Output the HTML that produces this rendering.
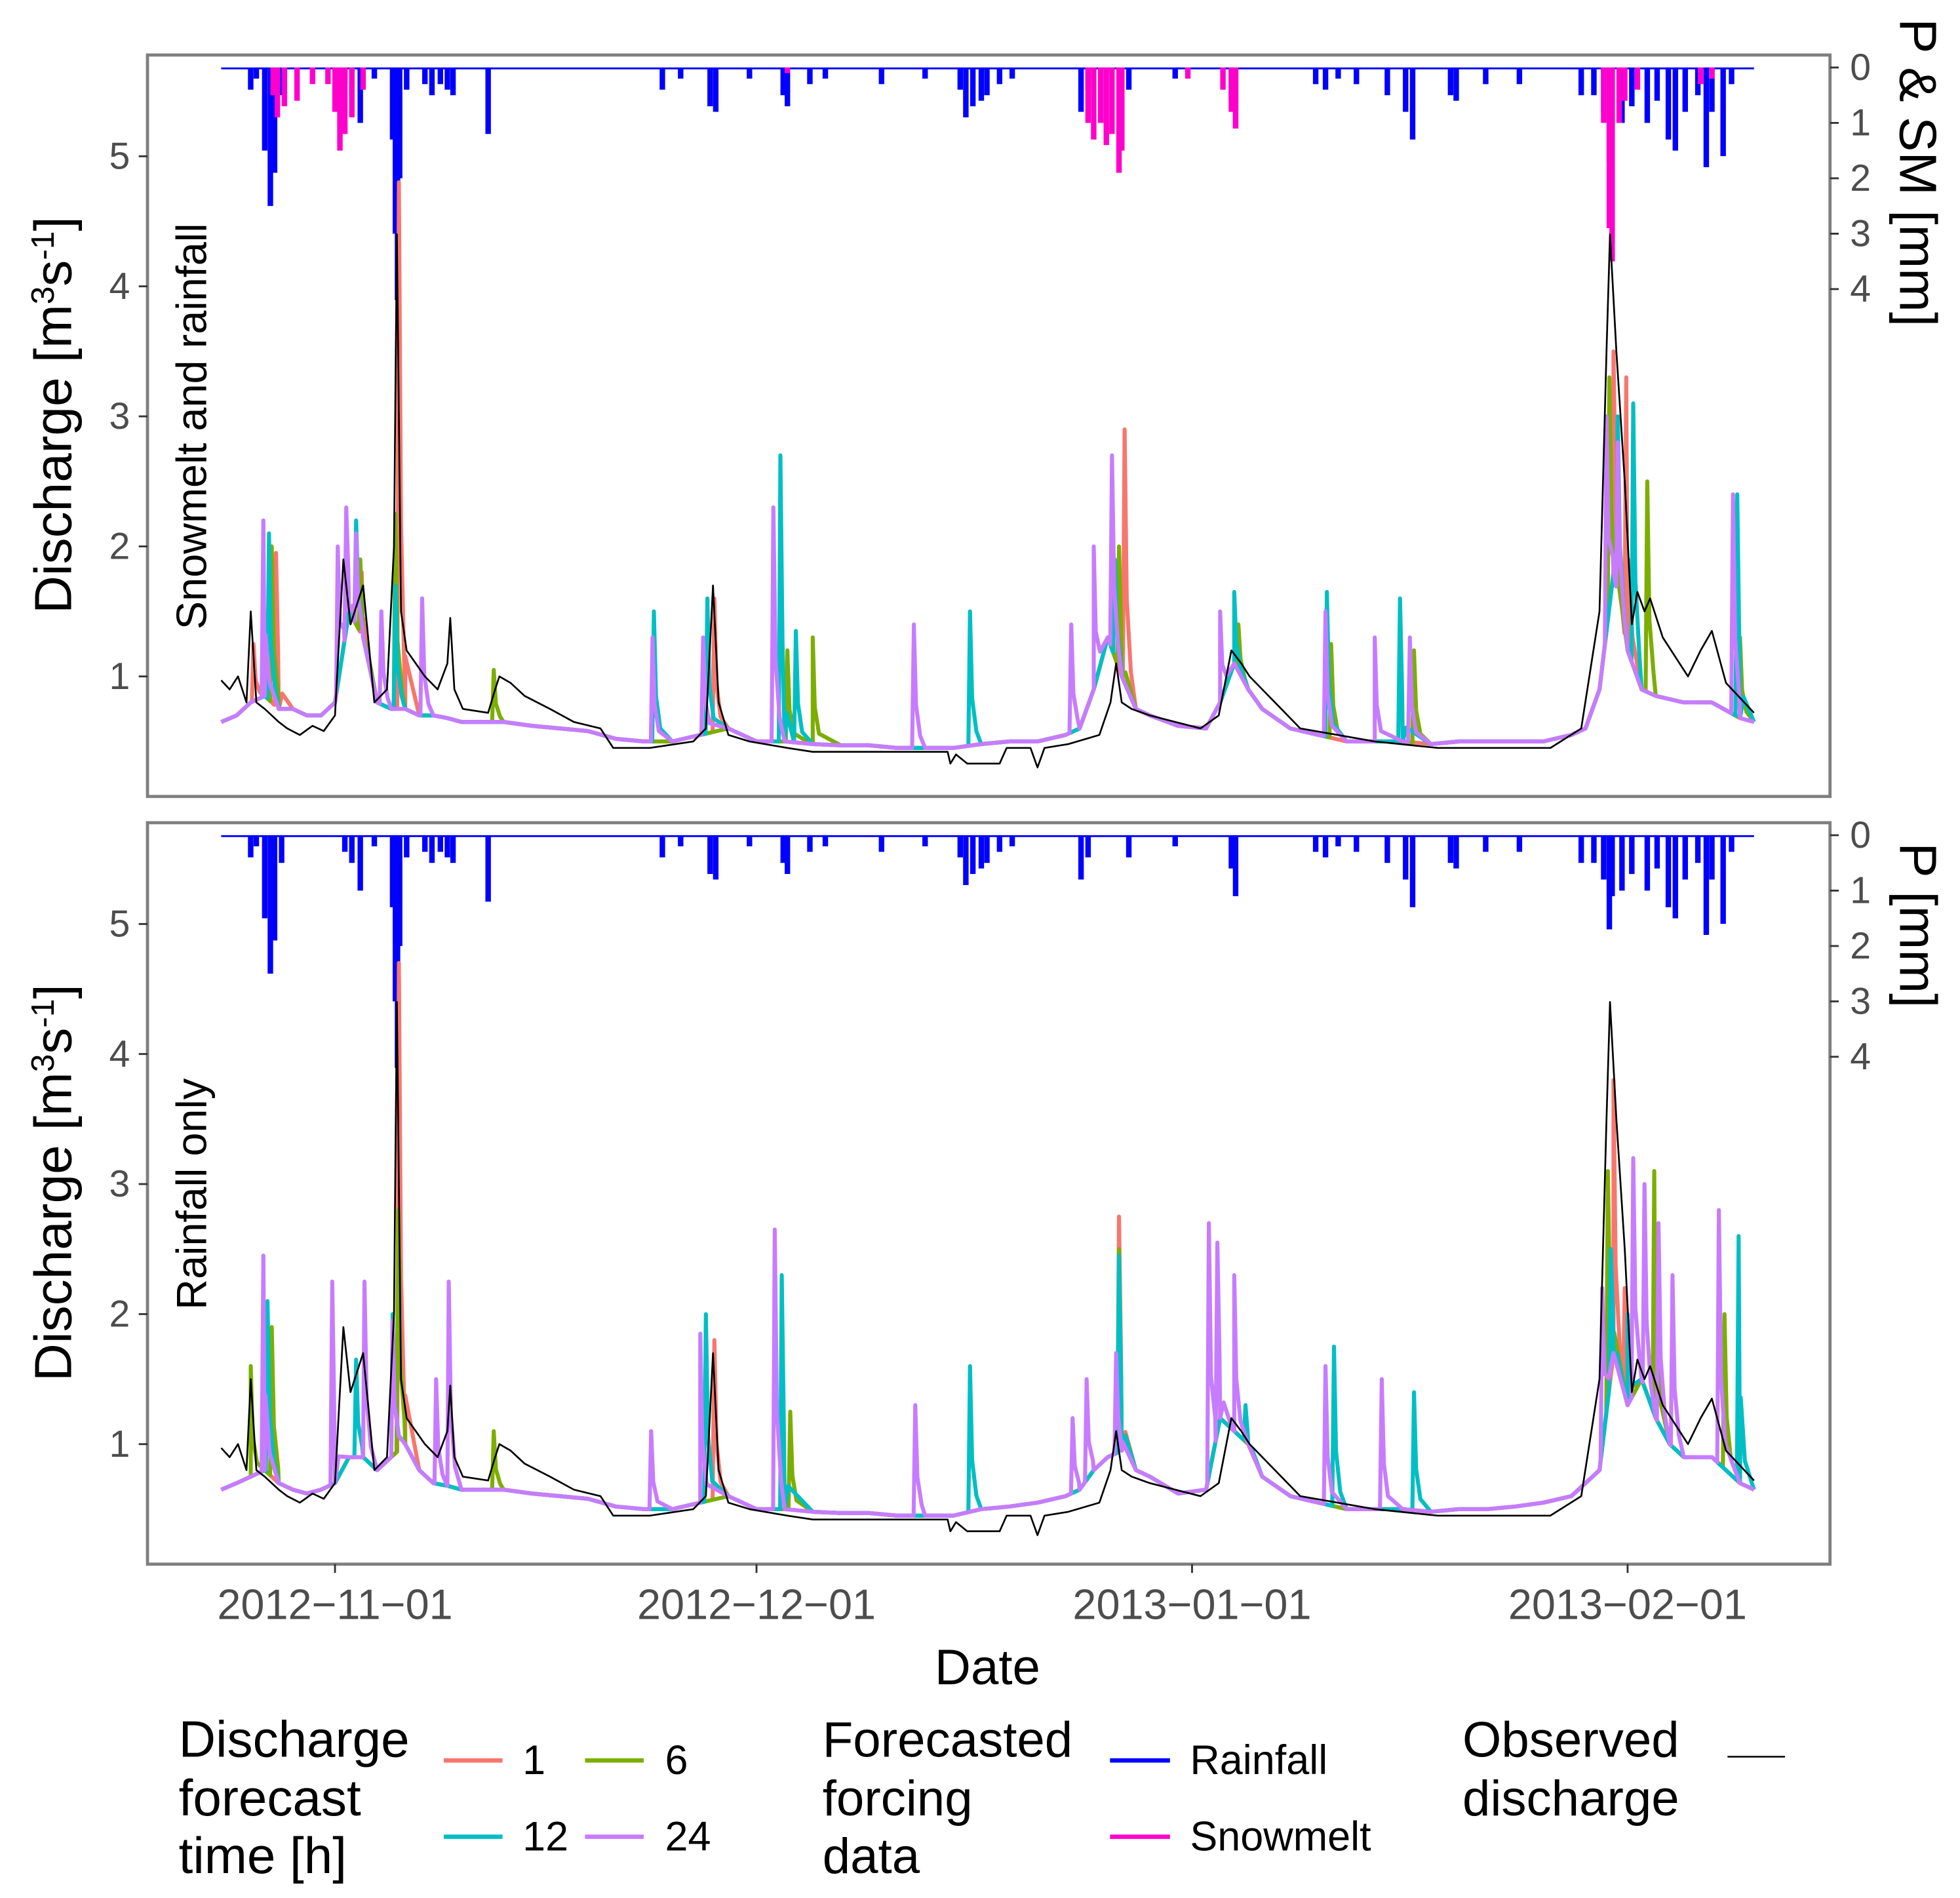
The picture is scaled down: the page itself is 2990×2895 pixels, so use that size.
<!DOCTYPE html>
<html><head><meta charset="utf-8"><style>
html,body{margin:0;padding:0;background:#fff}
svg{display:block}
text{font-family:"Liberation Sans",Arial,sans-serif}
</style></head><body>
<svg id="chart" width="2990" height="2895" viewBox="0 0 1568 1518" preserveAspectRatio="none" xmlns="http://www.w3.org/2000/svg">
<rect width="1568" height="1518" fill="#fff"/>
<g id="panels"></g>
<g id="legend">
 <text x="143" y="1405" font-size="41" fill="#000">Discharge</text>
 <text x="143" y="1452" font-size="41" fill="#000">forecast</text>
 <text x="143" y="1498" font-size="41" fill="#000">time [h]</text>
 <g><line x1="355" y1="1408" x2="402" y2="1408" stroke="#F8766D" stroke-width="3.5"/><text x="418" y="1419" font-size="33">1</text></g>
 <g><line x1="468" y1="1408" x2="515" y2="1408" stroke="#7CAE00" stroke-width="3.5"/><text x="532" y="1419" font-size="33">6</text></g>
 <g><line x1="355" y1="1469" x2="402" y2="1469" stroke="#00BFC4" stroke-width="3.5"/><text x="418" y="1480" font-size="33">12</text></g>
 <g><line x1="468" y1="1469" x2="515" y2="1469" stroke="#C77CFF" stroke-width="3.5"/><text x="532" y="1480" font-size="33">24</text></g>
 <text x="658" y="1405" font-size="40">Forecasted</text>
 <text x="658" y="1452" font-size="40">forcing</text>
 <text x="658" y="1498" font-size="40">data</text>
 <g><line x1="888" y1="1408" x2="936" y2="1408" stroke="#0000FF" stroke-width="3.5"/><text x="952" y="1419" font-size="33">Rainfall</text></g>
 <g><line x1="888" y1="1469" x2="936" y2="1469" stroke="#FF00CC" stroke-width="3.5"/><text x="952" y="1480" font-size="33">Snowmelt</text></g>
 <text x="1170" y="1405" font-size="40">Observed</text>
 <text x="1170" y="1452" font-size="40">discharge</text>
 <g><line x1="1382" y1="1405" x2="1428" y2="1405" stroke="#000" stroke-width="1.3"/></g>
</g>
<text x="790" y="1347" font-size="40" text-anchor="middle">Date</text>
</svg>
<script>
const xTickLabels=["2012\u221211\u221201","2012\u221212\u221201","2013\u221201\u221201","2013\u221202\u221201"];
const xTickDays=[0,30,61,92];
const yTickLabels=[1,2,3,4,5];
const pTickLabels=[0,1,2,3,4];
const obs=[[-8.1,0.97],[-7.5,0.9],[-6.9,1.0],[-6.3,0.8],[-6.0,1.5],[-5.6,0.8],[-5,0.75],[-4,0.65],[-3.4,0.6],[-2.5,0.55],[-1.6,0.62],[-0.8,0.58],[0,0.7],[0.6,1.9],[1.1,1.4],[2.0,1.7],[2.8,0.8],[3.7,0.9],[4.2,2.0],[4.4,4.4],[4.7,1.5],[5.1,1.2],[6.4,1.0],[7.3,0.9],[8.0,1.1],[8.2,1.45],[8.5,0.9],[9.1,0.75],[10.9,0.72],[11.4,0.9],[11.7,1.0],[12.5,0.95],[13.5,0.85],[15.3,0.75],[17,0.65],[18.9,0.6],[19.8,0.45],[22.4,0.45],[25.5,0.5],[26.4,0.6],[26.9,1.7],[27.3,0.8],[28,0.55],[29.5,0.5],[32.2,0.45],[34,0.42],[38.4,0.42],[43.6,0.42],[43.8,0.33],[44.2,0.4],[45,0.33],[47.3,0.33],[47.8,0.45],[49.5,0.45],[50,0.3],[50.5,0.45],[52.2,0.48],[54.4,0.55],[55.2,0.8],[55.6,1.1],[56,0.8],[56.7,0.75],[58,0.7],[61.6,0.6],[62.9,0.7],[63.8,1.2],[64.5,1.1],[65.1,1.0],[66.9,0.8],[68.7,0.6],[74,0.5],[78.5,0.45],[86.5,0.45],[88.7,0.6],[90,1.5],[90.5,3.5],[90.75,4.4],[91.2,3.5],[91.8,2.5],[92.3,1.4],[92.7,1.65],[93.2,1.5],[93.6,1.6],[94.5,1.3],[96.3,1.0],[97.2,1.2],[98,1.35],[99,0.95],[101,0.72]];
const baseTop=[[-8.1,0.65],[-7,0.7],[-6,0.8],[-5,0.85],[-4,0.75],[-3,0.75],[-2,0.7],[-1,0.7],[0,0.8],[1,1.5],[2,1.3],[3,0.8],[4,0.75],[5,0.75],[6,0.7],[7,0.7],[8,0.68],[9,0.65],[10,0.65],[12,0.65],[14,0.62],[16,0.6],[18,0.58],[20,0.52],[22,0.5],[24,0.5],[26,0.55],[28,0.6],[30,0.5],[32,0.5],[34,0.48],[36,0.47],[38,0.47],[40,0.45],[42,0.45],[44,0.45],[46,0.48],[48,0.5],[50,0.5],[52,0.55],[53,0.6],[54,0.9],[55,1.3],[56,1.0],[57,0.75],[58,0.7],[60,0.62],[62,0.6],[63,0.8],[64,1.1],[65,0.9],[66,0.75],[68,0.6],[70,0.55],[72,0.5],[74,0.5],[76,0.5],[78,0.48],[80,0.5],[82,0.5],[84,0.5],[86,0.5],[88,0.55],[89,0.6],[90,0.9],[91,1.8],[92,1.2],[93,0.9],[94,0.85],[96,0.8],[98,0.8],[100,0.68],[101,0.65]];
const baseBot=[[-8.1,0.65],[-7,0.7],[-6,0.75],[-5,0.8],[-4,0.7],[-3,0.65],[-2,0.62],[-1,0.65],[0,0.7],[1,0.9],[2,0.9],[3,0.8],[4,0.9],[5,1.0],[6,0.8],[7,0.7],[8,0.68],[9,0.65],[10,0.65],[12,0.65],[14,0.62],[16,0.6],[18,0.58],[20,0.52],[22,0.5],[24,0.5],[26,0.55],[28,0.6],[30,0.5],[32,0.5],[34,0.48],[36,0.47],[38,0.47],[40,0.45],[42,0.45],[44,0.45],[46,0.5],[48,0.52],[50,0.55],[52,0.6],[53,0.65],[54,0.8],[55,0.9],[56,0.95],[57,0.8],[58,0.75],[60,0.62],[62,0.65],[63,1.2],[64,1.1],[65,1.0],[66,0.75],[68,0.6],[70,0.55],[72,0.5],[74,0.5],[76,0.5],[78,0.48],[80,0.5],[82,0.5],[84,0.52],[86,0.55],[88,0.6],[89,0.7],[90,0.8],[91,1.7],[92,1.3],[93,1.5],[94,1.2],[95,1.0],[96,0.9],[98,0.9],[100,0.7],[101,0.65]];
const top1=[[-5.8,1.25],[-4.2,1.95],[1.9,1.8],[4.55,4.8],[27.0,1.6],[56.2,2.9],[64.2,1.3],[91,3.5],[91.9,3.3]];
const top6=[[-4.5,2.0],[1.8,1.9],[4.3,2.25],[11.3,1.05],[32.2,1.2],[34,1.3],[55.8,2.0],[64.3,1.4],[70.9,1.25],[76.8,1.2],[90.7,3.3],[93.4,2.5],[100,1.3]];
const top12=[[-4.7,2.1],[1.5,2.2],[4.3,1.7],[22.7,1.5],[26.5,1.6],[31.7,2.7],[32.8,1.35],[45.2,1.5],[55.5,1.9],[64,1.65],[70.6,1.65],[75.8,1.6],[91.3,3.0],[92.4,3.1],[99.8,2.4]];
const top24=[[-5.1,2.2],[0.2,2.0],[0.8,2.3],[1.5,2.1],[3.3,1.5],[6.2,1.6],[22.6,1.3],[26.2,1.3],[31.2,2.3],[41.2,1.4],[52.4,1.4],[54.0,2.0],[55.3,2.7],[63.0,1.5],[70.5,1.5],[74,1.3],[76.5,1.3],[90.5,3.0],[91.3,2.8],[99.5,2.4]];
const bot1=[[4.55,4.7],[27,1.8],[55.8,2.75],[91,3.8],[91.8,2.2]];
const bot6=[[-6.0,1.6],[-4.5,1.9],[4.5,2.8],[11.3,1.1],[32.4,1.25],[55.8,2.5],[90.6,3.1],[93.9,3.1],[98.9,2.0]];
const bot12=[[-4.8,2.1],[1.5,1.65],[4.1,2.0],[26.4,2.0],[31.8,2.3],[45.2,1.6],[55.8,2.45],[64.8,1.3],[71.1,1.75],[76.8,1.4],[90.8,2.5],[92,2.0],[99.9,2.6]];
const bot24=[[-5.1,2.45],[-0.2,2.25],[2.1,2.25],[4.1,1.95],[7.2,1.5],[8.1,2.25],[22.5,1.1],[26,1.85],[31.3,2.65],[41.3,1.3],[52.5,1.2],[53.5,1.5],[55.6,1.7],[62.2,2.7],[62.8,2.55],[64,2.3],[70.5,1.6],[74.5,1.5],[90.2,2.2],[92.4,3.2],[93.2,3.0],[94.2,2.7],[95.2,2.3],[98.5,2.8]];
const rain=[[-6.0,0.4],[-5.6,0.2],[-5.0,1.5],[-4.6,2.5],[-4.3,1.9],[-3.8,0.5],[0.7,0.3],[1.2,0.5],[1.8,1.0],[2.8,0.2],[4.1,1.3],[4.3,3.0],[4.45,4.2],[4.6,2.0],[5.1,0.4],[6.4,0.3],[6.9,0.5],[7.5,0.3],[8.0,0.4],[8.4,0.5],[10.9,1.2],[23.3,0.4],[24.6,0.2],[26.7,0.7],[27.1,0.8],[29.5,0.2],[31.9,0.5],[32.2,0.7],[33.8,0.3],[34.9,0.2],[38.9,0.3],[42.0,0.2],[44.5,0.4],[44.9,0.9],[45.4,0.7],[46.0,0.6],[46.4,0.5],[47.3,0.3],[48.2,0.2],[53.1,0.8],[53.6,0.4],[56.5,0.4],[59.8,0.2],[63.8,0.6],[64.1,1.1],[69.8,0.3],[70.5,0.4],[71.4,0.2],[72.7,0.3],[74.9,0.5],[76.2,0.8],[76.7,1.3],[79.4,0.5],[79.8,0.6],[81.9,0.3],[84.3,0.3],[88.7,0.5],[89.6,0.5],[90.3,0.8],[90.7,1.7],[90.9,1.1],[91.6,1.0],[92.3,0.7],[93.4,1.0],[94.1,0.6],[94.9,1.3],[95.4,1.5],[96.1,0.8],[97.0,0.5],[97.6,1.8],[98.0,0.8],[98.8,1.6],[99.4,0.3]];
const snow=[[-4.4,0.5],[-4.1,0.9],[-3.6,0.7],[-2.7,0.6],[-1.6,0.3],[-0.5,0.3],[0,0.8],[0.35,1.5],[0.7,1.2],[1.2,0.9],[2.0,0.4],[32.2,0.1],[53.6,1.0],[54.0,1.3],[54.5,1.0],[54.9,1.4],[55.3,1.2],[55.8,1.9],[56.0,1.5],[60.7,0.2],[63.2,0.4],[63.8,0.8],[64.1,1.1],[90.3,1.0],[90.7,2.9],[90.9,3.5],[91.4,1.0],[91.8,0.6],[92.7,0.4],[97.2,0.3],[98.0,0.2]];

const NS='http://www.w3.org/2000/svg';
const panelsG=document.getElementById('panels');
const X0=118,X1=1464;
function xs(d){return 268+d*11.24;}
function mk(tag,attrs,parent){const e=document.createElementNS(NS,tag);for(const k in attrs)e.setAttribute(k,attrs[k]);parent.appendChild(e);return e;}
function interp(base,t){for(let i=1;i<base.length;i++){if(base[i][0]>=t){const a=base[i-1],b=base[i];const f=(t-a[0])/(b[0]-a[0]);return a[1]+f*(b[1]-a[1]);}}return base[base.length-1][1];}
function merge(base,peaks){
  const pts=base.slice();
  peaks.forEach(p=>{
    pts.push([p[0]-0.12,interp(base,p[0]-0.12)]);
    pts.push(p);
    pts.push([p[0]+0.15,interp(base,p[0]+0.15)+(p[1]-interp(base,p[0]))*0.35]);
    pts.push([p[0]+0.45,interp(base,p[0]+0.45)+(p[1]-interp(base,p[0]))*0.1]);
  });
  return pts.sort((a,b)=>a[0]-b[0]);
}
const colors={s1:'#F8766D',s6:'#7CAE00',s12:'#00BFC4',s24:'#C77CFF'};
function panel(top,bot,name,strip,rightTitle,rtCenter,series,bars,showX){
  const g=mk('g',{},panelsG);
  
  
  const y1=top+497;
  const ys=v=>y1-(v-1)*104;
  const p0=top+10;
  const ps=m=>p0+m*44.3;
  const clipId='clip-'+name;
  const cp=mk('clipPath',{id:clipId},g);mk('rect',{x:X0,y:top,width:X1-X0,height:bot-top},cp);
  const pl=mk('g',{'clip-path':'url(#'+clipId+')'},g);
  mk('line',{x1:xs(-8.1),x2:xs(101),y1:p0+0.7,y2:p0+0.7,stroke:'#0000FF','stroke-width':1.5},pl);
  bars.forEach(b=>{
    const bg=mk('g',{},pl);
    
    
    b.data.forEach(d=>{
      const r=mk('rect',{x:xs(d[0])-2.2,y:p0,width:4.4,height:Math.max(1,ps(d[1])-p0),fill:b.color},bg);
      
      
    });
  });
  series.forEach(s=>{
    const d=s.data.map((p,i)=>(i?'L':'M')+xs(p[0]).toFixed(1)+','+ys(p[1]).toFixed(1)).join('');
    const path=mk('path',{d:d,fill:'none',stroke:s.color,'stroke-width':s.w,'stroke-linejoin':'round'},pl);
    
    
  });
  const fr=mk('rect',{x:X0,y:top,width:X1-X0,height:bot-top,fill:'none',stroke:'#7f7f7f','stroke-width':2.5},g);
  
  
  yTickLabels.forEach(v=>{
    const y=ys(v);
    mk('line',{x1:111,x2:X0,y1:y,y2:y,stroke:'#333','stroke-width':1.5},g);
    const t=mk('text',{x:104,y:y+10,'font-size':30,'text-anchor':'end',fill:'#4d4d4d'},g);t.textContent=v;
    
    
  });
  pTickLabels.forEach(v=>{
    const y=ps(v);
    mk('line',{x1:X1,x2:1471,y1:y,y2:y,stroke:'#333','stroke-width':1.5},g);
    const t=mk('text',{x:1480,y:y+10,'font-size':30,fill:'#4d4d4d'},g);t.textContent=v;
    
    
  });
  const yt=mk('text',{x:0,y:0,'font-size':42,'text-anchor':'middle',transform:'translate(57,'+(top+288)+') rotate(-90)'},g);
  yt.innerHTML='Discharge [m<tspan font-size="26" dy="-14">3</tspan><tspan dy="14">s</tspan><tspan font-size="26" dy="-14">-1</tspan><tspan dy="14">]</tspan>';
  
  
  const st=mk('text',{x:0,y:0,'font-size':34,'text-anchor':'middle',transform:'translate(165,'+(top+297)+') rotate(-90)'},g);st.textContent=strip;
  
  
  const rt=mk('text',{x:0,y:0,'font-size':42,'text-anchor':'middle',transform:'translate(1520,'+rtCenter+') rotate(90)'},g);rt.textContent=rightTitle;
  
  
  if(showX){
    xTickDays.forEach((d,i)=>{
      const x=xs(d);
      mk('line',{x1:x,x2:x,y1:bot,y2:bot+7,stroke:'#333','stroke-width':1.5},g);
      const t=mk('text',{x:x,y:bot+44,'font-size':34,'text-anchor':'middle',fill:'#4d4d4d'},g);t.textContent=xTickLabels[i];
      
      
    });
  }
}
function seriesFor(base,a,b,c,d){return [
 {name:'forecast-1h-line',color:colors.s1,w:3.2,data:merge(base,a)},
 {name:'forecast-6h-line',color:colors.s6,w:3.2,data:merge(base,b)},
 {name:'forecast-12h-line',color:colors.s12,w:3.2,data:merge(base,c)},
 {name:'forecast-24h-line',color:colors.s24,w:3.2,data:merge(base,d)},
 {name:'observed-discharge-line',color:'#000',w:1.4,data:obs}];}
panel(44,637,'top-panel','Snowmelt and rainfall','P & SM [mm]',138,seriesFor(baseTop,top1,top6,top12,top24),
 [{name:'rainfall',color:'#0000FF',data:rain},{name:'snowmelt',color:'#FF00CC',data:snow}],false);
panel(658,1251,'bottom-panel','Rainfall only','P [mm]',740,seriesFor(baseBot,bot1,bot6,bot12,bot24),
 [{name:'rainfall',color:'#0000FF',data:rain}],true);
</script>
</body></html>
